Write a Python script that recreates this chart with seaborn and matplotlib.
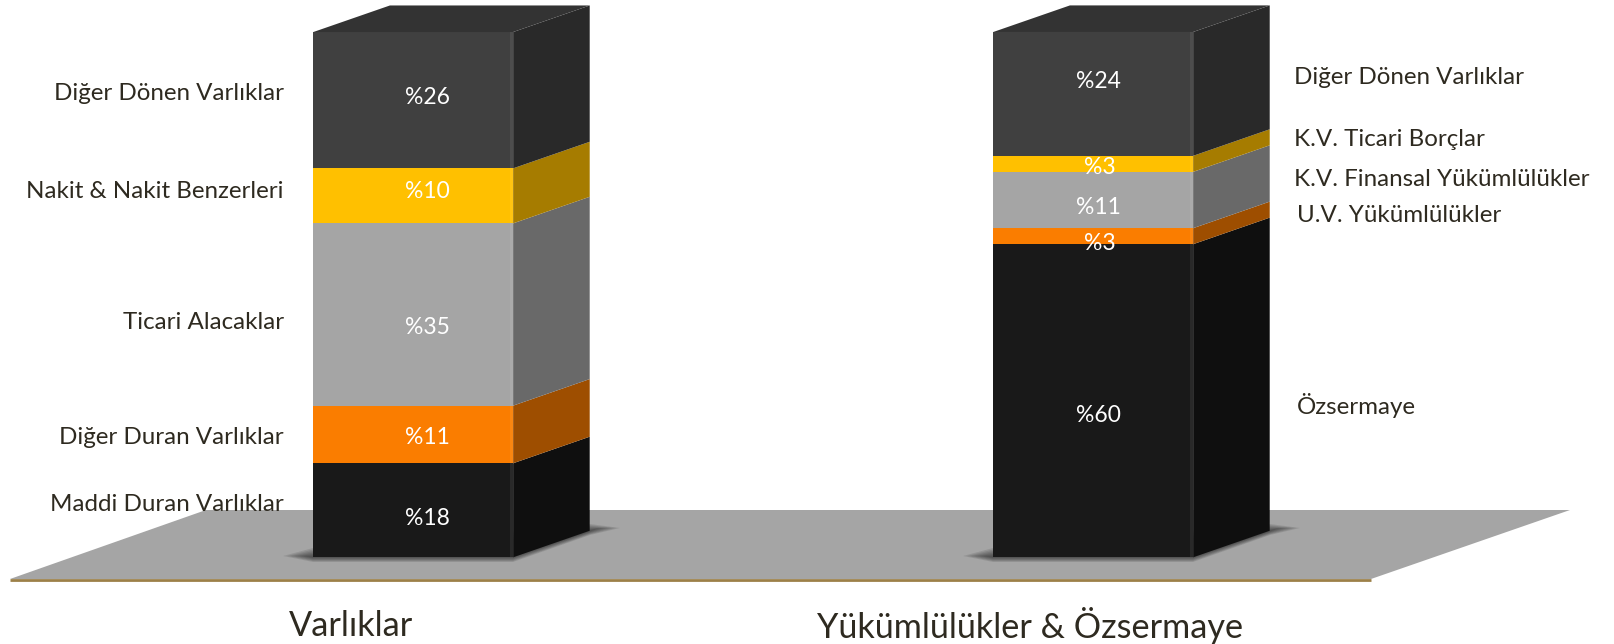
import matplotlib
matplotlib.use('Agg')
import matplotlib.pyplot as plt
from matplotlib.transforms import Affine2D
import seaborn as sns

# values, bottom segment first
GROUPS = ['Varlıklar', 'Yükümlülükler & Özsermaye']
ASSET_LABELS = [18, 11, 35, 10, 26]
LIABILITY_LABELS = [60, 3, 11, 3, 24]
# segment sizes, the printed labels are rounded
ASSET_SIZES = [17.9, 10.97, 34.7, 10.47, 25.95]
LIABILITY_SIZES = [59.6, 3.05, 10.72, 3.05, 23.58]
ASSET_NAMES = ['Maddi Duran Varlıklar', 'Diğer Duran Varlıklar', 'Ticari Alacaklar',
               'Nakit & Nakit Benzerleri', 'Diğer Dönen Varlıklar']
LIABILITY_NAMES = ['Özsermaye', 'U.V. Yükümlülükler', 'K.V. Finansal Yükümlülükler',
                   'K.V. Ticari Borçlar', 'Diğer Dönen Varlıklar']

FRONT = ['#191919', '#FA7D00', '#A5A5A5', '#FFC000', '#404040']
SIDE = ['#0F0F0F', '#9E4E00', '#696969', '#A67C00', '#292929']
TOP = '#333333'
TEXT = '#2E2A20'

W, H = 1614, 644
DEPTH_X = 0.1127
DEPTH_Y = 5.06

sns.set_theme(style='white', rc={'axes.facecolor': 'none'})
plt.rcParams['font.family'] = ['Lato', 'DejaVu Sans']

fig = plt.figure(figsize=(W / 100, H / 100), dpi=100)
ax = fig.add_axes([0, 0, 1, 1])
px = Affine2D().scale(1 / W, -1 / H).translate(0, 1) + fig.transFigure

# floor
ax.fill([206, 1570, 1371, 10], [510, 510, 579, 579], color='#A5A5A5', lw=0,
        transform=px, zorder=0)
ax.plot([10, 1371], [580, 580], color='#9C8048', lw=2, transform=px, zorder=0,
        solid_capstyle='butt')

# shadows on the floor
for left, right in [(313, 513), (993, 1193)]:
    for i in range(7):
        t = i / 6
        xs = [left - 30 + 25 * t, left, right, right + 77, right + 107 - 25 * t, right + 77, left]
        ys = [556, 557 + 5 * (1 - t), 557 + 5 * (1 - t), 531 + 4 * (1 - t), 528,
              531 - 7 * (1 - t), 557 - 9 * (1 - t)]
        ax.fill(xs, ys, color='black', alpha=0.1, lw=0, transform=px, zorder=1)

width = 0.2938
for g, sizes in enumerate([ASSET_SIZES, LIABILITY_SIZES]):
    bottom = 0
    r = g + width / 2
    l = g - width / 2
    for h, front, side in zip(sizes, FRONT, SIDE):
        sns.barplot(x=[GROUPS[g]], y=[h], bottom=bottom, order=GROUPS, color=front,
                    saturation=1, width=width, linewidth=0, ax=ax, zorder=3)
        ax.fill([r, r + DEPTH_X, r + DEPTH_X, r],
                [bottom, bottom + DEPTH_Y, bottom + h + DEPTH_Y, bottom + h],
                color=side, lw=0, zorder=3)
        bottom += h
    ax.fill([l, r, r + DEPTH_X, l + DEPTH_X],
            [bottom, bottom, bottom + DEPTH_Y, bottom + DEPTH_Y], color=TOP, lw=0, zorder=3)
    ax.plot([r - 0.002, r - 0.002], [0, bottom], color='white', alpha=0.07, lw=3, zorder=4,
            solid_capstyle='butt')

ax.set_xlim(-0.6076, 1.7659)
ax.set_ylim(-16.5, 106.09)
ax.axis('off')

# names beside the bars
for name, y in zip(ASSET_NAMES, [505, 438, 323, 192, 94]):
    ax.text(284, y, name, ha='right', va='center', fontsize=17.4, color=TEXT, transform=px, zorder=5)
for name, x, y in zip(LIABILITY_NAMES, [1297, 1297, 1294, 1294, 1294], [406, 216, 179, 140, 77]):
    ax.text(x, y, name, ha='left', va='center', fontsize=17.4, color=TEXT, transform=px, zorder=5)

# percentages
for v, y in zip(ASSET_LABELS, [519, 438, 328, 191, 98]):
    ax.text(427, y, f'%{v}', ha='center', va='center', fontsize=16.5, color='white', transform=px, zorder=6)
for v, x, y in zip(LIABILITY_LABELS, [1098, 1100, 1098, 1100, 1098], [416, 243, 207, 168, 81]):
    ax.text(x, y, f'%{v}', ha='center', va='center', fontsize=16.5, color='white', transform=px, zorder=6)

# group captions
for name, x in zip(GROUPS, [351, 1030]):
    ax.text(x, 626, name, ha='center', va='center', fontsize=24.7, color=TEXT, transform=px)

fig.savefig('out.png', dpi=100)
